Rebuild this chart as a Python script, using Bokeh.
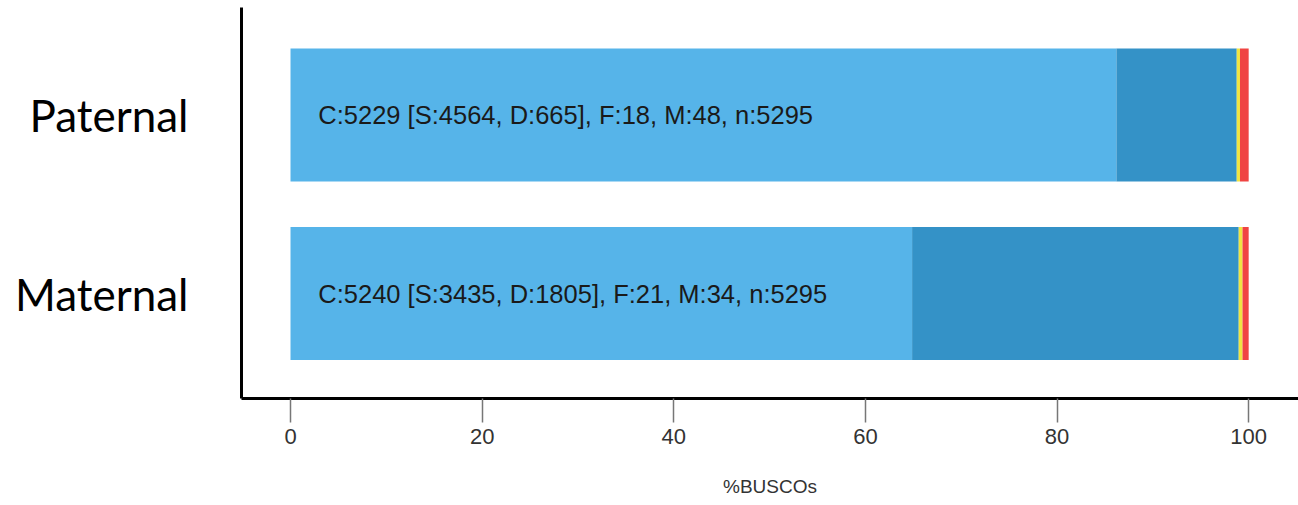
from bokeh.plotting import figure
from bokeh.models import Range1d, FixedTicker, ColumnDataSource
from bokeh.core.properties import value
from bokeh.embed import file_html
from bokeh.resources import INLINE

# ---- data ----
categories = ["Paternal", "Maternal"]
single = [4564, 3435]      # complete, single copy
duplicated = [665, 1805]   # complete, duplicated
fragmented = [18, 21]
missing = [48, 34]
total = [5295, 5295]
colors = ["#56B4E9", "#3492C7", "#F0E442", "#F04442"]
x_ticks = [0, 20, 40, 60, 80, 100]

# y positions: first category at top
ypos = [len(categories) - 1 - i for i in range(len(categories))]

p = figure(width=1298, height=505, output_backend="svg", toolbar_location=None,
           x_range=Range1d(-5.115, 105.2), y_range=Range1d(-0.588, 1.602),
           min_border_left=241, min_border_right=0, min_border_top=7,
           min_border_bottom=107, background_fill_color="white",
           border_fill_color="white")
p.outline_line_color = None
p.grid.visible = False

series = [single, duplicated, fragmented, missing]
lefts = [0.0] * len(categories)
for vals, col in zip(series, colors):
    pct = [v / n * 100 for v, n in zip(vals, total)]
    rights = [l + w for l, w in zip(lefts, pct)]
    src = ColumnDataSource(dict(y=ypos, left=lefts, right=rights))
    p.hbar(y="y", left="left", right="right", height=0.745, source=src,
           fill_color=col, line_color=None)
    lefts = rights

labels = [f"C:{s + d} [S:{s}, D:{d}], F:{f}, M:{m}, n:{n}"
          for s, d, f, m, n in zip(single, duplicated, fragmented, missing, total)]
tsrc = ColumnDataSource(dict(x=[2.9] * len(categories), y=ypos, t=labels))
p.text(x="x", y="y", text="t", source=tsrc, text_font=value("Liberation Sans"),
       text_font_size="25.5px", text_color="#1a1a1a", text_baseline="middle",
       text_align="left")

# x axis
xa = p.xaxis[0]
xa.ticker = FixedTicker(ticks=x_ticks)
xa.axis_line_width = 3
xa.axis_line_color = "black"
xa.major_tick_in = 0
xa.major_tick_out = 24
xa.major_tick_line_color = "#777777"
xa.major_tick_line_width = 1.5
xa.minor_tick_line_color = None
xa.major_label_text_font = "Liberation Sans"
xa.major_label_text_font_size = "22px"
xa.major_label_text_color = "#333333"
xa.major_label_standoff = 6
xa.axis_label = "%BUSCOs"
xa.axis_label_text_font = "Liberation Sans"
xa.axis_label_text_font_size = "19px"
xa.axis_label_text_font_style = "normal"
xa.axis_label_text_color = "#333333"
xa.axis_label_standoff = 29

# y axis
ya = p.yaxis[0]
ya.ticker = FixedTicker(ticks=ypos)
ya.major_label_overrides = {y: c for y, c in zip(ypos, categories)}
ya.axis_line_width = 3
ya.axis_line_color = "black"
ya.major_tick_line_color = None
ya.major_tick_in = 0
ya.major_tick_out = 0
ya.minor_tick_line_color = None
ya.major_label_text_font = "Lato"
ya.major_label_text_font_size = "44px"
ya.major_label_text_color = "black"
ya.major_label_standoff = 53

open("out.html", "w").write(file_html(p, INLINE))
